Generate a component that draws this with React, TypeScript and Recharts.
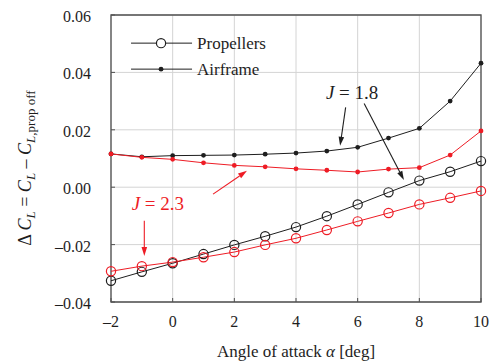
import React from 'react';
import { ComposedChart, Line, XAxis, YAxis, CartesianGrid, ReferenceArea, ReferenceLine, ReferenceDot } from 'recharts';

const alpha = [-2, -1, 0, 1, 2, 3, 4, 5, 6, 7, 8, 9, 10];
const propJ18 = [-0.0326, -0.0295, -0.0265, -0.0233, -0.0201, -0.0171, -0.0139, -0.0101, -0.006, -0.0018, 0.0023, 0.0054, 0.0091];
const propJ23 = [-0.0293, -0.0275, -0.0261, -0.0244, -0.0226, -0.0201, -0.0178, -0.0149, -0.0119, -0.009, -0.006, -0.0037, -0.0013];
const airJ18 = [0.0116, 0.0106, 0.011, 0.0111, 0.0112, 0.0115, 0.0119, 0.0126, 0.0139, 0.0171, 0.0205, 0.03, 0.0432];
const airJ23 = [0.0116, 0.0104, 0.0097, 0.0085, 0.0076, 0.0071, 0.0064, 0.0059, 0.0053, 0.0063, 0.0068, 0.0112, 0.0196];
const xTicks = [-2, 0, 2, 4, 6, 8, 10];
const yTicks = [-0.04, -0.02, 0, 0.02, 0.04, 0.06];
const legendNames = ['Propellers', 'Airframe'];

const data = alpha.map((a, i) => ({ a, propJ18: propJ18[i], propJ23: propJ23[i], airJ18: airJ18[i], airJ23: airJ23[i] }));

const BLACK = '#1e1e1e';
const RED = '#ee1c25';
const AXIS = '#505050';
const FONT = "'Liberation Serif', 'DejaVu Serif', serif";
const serif = (size: number) => ({ fontFamily: FONT, fontSize: size });

const fmtY = (v: number) => (v < 0 ? '\u2013' : '') + Math.abs(v).toFixed(2);
const fmtX = (v: number) => (v < 0 ? '\u2013' : '') + Math.abs(v);

const X_OFF = 12; // tickSize + tickMargin
const Y_OFF = 20;

const XTick = (p: any) => (
  <g>
    <line x1={p.x} y1={p.y - X_OFF} x2={p.x} y2={p.y - X_OFF - 4} stroke={AXIS} strokeWidth={1} />
    <text x={p.x} y={p.y} dy={13} textAnchor="middle" style={serif(16)} fill={BLACK}>
      {fmtX(p.payload.value)}
    </text>
  </g>
);
const YTick = (p: any) => (
  <g>
    <line x1={p.x + Y_OFF} y1={p.y} x2={p.x + Y_OFF + 4} y2={p.y} stroke={AXIS} strokeWidth={1} />
    <text x={p.x} y={p.y} dy={7} textAnchor="end" style={serif(16)} fill={BLACK}>
      {fmtY(p.payload.value)}
    </text>
  </g>
);

const arrow = (color: string) => (p: any) => {
  const { x1, y1, x2, y2 } = p;
  const dx = x2 - x1, dy = y2 - y1;
  const len = Math.sqrt(dx * dx + dy * dy) || 1;
  const ux = dx / len, uy = dy / len;
  const hl = 9, hw = 2.8;
  const bx = x2 - ux * hl, by = y2 - uy * hl;
  const pts = `${x2},${y2} ${bx - uy * hw},${by + ux * hw} ${bx + uy * hw},${by - ux * hw}`;
  return (
    <g>
      <line x1={x1} y1={y1} x2={bx} y2={by} stroke={color} strokeWidth={1.1} />
      <polygon points={pts} fill={color} />
    </g>
  );
};

const jLabel = (txt: string, color: string) => (p: any) => (
  <text x={p.cx} y={p.cy} textAnchor="middle" style={serif(19)} fill={color}>
    <tspan fontStyle="italic">J</tspan>
    <tspan> = {txt}</tspan>
  </text>
);

const legendShape = (p: any) => {
  const x = p.cx, y = p.cy;
  return (
    <g>
      <line x1={x} y1={y} x2={x + 61} y2={y} stroke={BLACK} strokeWidth={1} />
      <circle cx={x + 30} cy={y} r={4.6} fill="#fff" stroke={BLACK} strokeWidth={1.2} />
      <text x={x + 66} y={y + 6} style={serif(17)} fill={BLACK}>{legendNames[0]}</text>
      <line x1={x} y1={y + 26} x2={x + 61} y2={y + 26} stroke={BLACK} strokeWidth={1} />
      <circle cx={x + 30} cy={y + 26} r={2.4} fill={BLACK} />
      <text x={x + 66} y={y + 32} style={serif(17)} fill={BLACK}>{legendNames[1]}</text>
    </g>
  );
};

const YLabel = () => (
  <text transform="translate(31,168) rotate(-90)" textAnchor="middle" style={serif(18)} fill={BLACK}>
    <tspan>{'\u0394 '}</tspan>
    <tspan fontStyle="italic">C</tspan>
    <tspan fontStyle="italic" fontSize={13} dy={4}>L</tspan>
    <tspan dy={-4}>{' = '}</tspan>
    <tspan fontStyle="italic">C</tspan>
    <tspan fontStyle="italic" fontSize={13} dy={4}>L</tspan>
    <tspan dy={-4}>{' \u2013 '}</tspan>
    <tspan fontStyle="italic">C</tspan>
    <tspan fontSize={13} dy={4}><tspan fontStyle="italic">L</tspan>,prop off</tspan>
  </text>
);

const XLabel = () => (
  <text x={296} y={357} textAnchor="middle" style={serif(17)} fill={BLACK}>
    <tspan>Angle of attack </tspan>
    <tspan fontStyle="italic">{'\u03b1'}</tspan>
    <tspan> [deg]</tspan>
  </text>
);

export default function App() {
  return (
    <div style={{ position: 'absolute', left: 0, top: 0, width: 490, height: 364, background: '#fff' }}>
      <ComposedChart width={490} height={364} data={data} margin={{ top: 15, right: 9, bottom: 0, left: 0 }} style={{ fontFamily: FONT }}>
        <CartesianGrid stroke="#d4d4d4" strokeWidth={1} horizontalValues={yTicks} verticalValues={xTicks} />
        <XAxis
          dataKey="a"
          type="number"
          domain={[-2, 10]}
          ticks={xTicks}
          axisLine={false}
          tickLine={false}
          tickSize={6}
          tickMargin={6}
          height={62}
          tick={<XTick />}
          label={{ content: () => <XLabel /> }}
        />
        <YAxis
          type="number"
          domain={[-0.04, 0.06]}
          ticks={yTicks}
          axisLine={false}
          tickLine={false}
          tickSize={6}
          tickMargin={14}
          width={111}
          tick={<YTick />}
          label={{ content: () => <YLabel /> }}
        />
        <ReferenceArea x1={-2} x2={10} y1={-0.04} y2={0.06} fill="none" stroke={AXIS} strokeWidth={1.3} fillOpacity={0} />
        <Line dataKey="airJ18" stroke={BLACK} strokeWidth={1} isAnimationActive={false}
          dot={{ r: 2.4, fill: BLACK, stroke: BLACK, strokeWidth: 0 }} />
        <Line dataKey="airJ23" stroke={RED} strokeWidth={1} isAnimationActive={false}
          dot={{ r: 2.4, fill: RED, stroke: RED, strokeWidth: 0 }} />
        <Line dataKey="propJ18" stroke={BLACK} strokeWidth={1} isAnimationActive={false}
          dot={{ r: 4.6, fill: 'none', stroke: BLACK, strokeWidth: 1.2 }} />
        <Line dataKey="propJ23" stroke={RED} strokeWidth={1} isAnimationActive={false}
          dot={{ r: 4.6, fill: 'none', stroke: RED, strokeWidth: 1.2 }} />
        <ReferenceLine segment={[{ x: 5.61, y: 0.0278 }, { x: 5.43, y: 0.0144 }]} shape={arrow(BLACK)} />
        <ReferenceLine segment={[{ x: 6.21, y: 0.0292 }, { x: 7.5, y: 0.0025 }]} shape={arrow(BLACK)} />
        <ReferenceLine segment={[{ x: -0.92, y: -0.0117 }, { x: -0.92, y: -0.024 }]} shape={arrow(RED)} />
        <ReferenceLine segment={[{ x: 1.31, y: -0.0024 }, { x: 2.41, y: 0.0057 }]} shape={arrow(RED)} />
        <ReferenceDot x={5.82} y={0.0307} r={0} shape={jLabel('1.8', BLACK)} />
        <ReferenceDot x={-0.48} y={-0.0079} r={0} shape={jLabel('2.3', RED)} />
        <ReferenceDot x={-1.35} y={0.0502} r={0} shape={legendShape} />
      </ComposedChart>
    </div>
  );
}
